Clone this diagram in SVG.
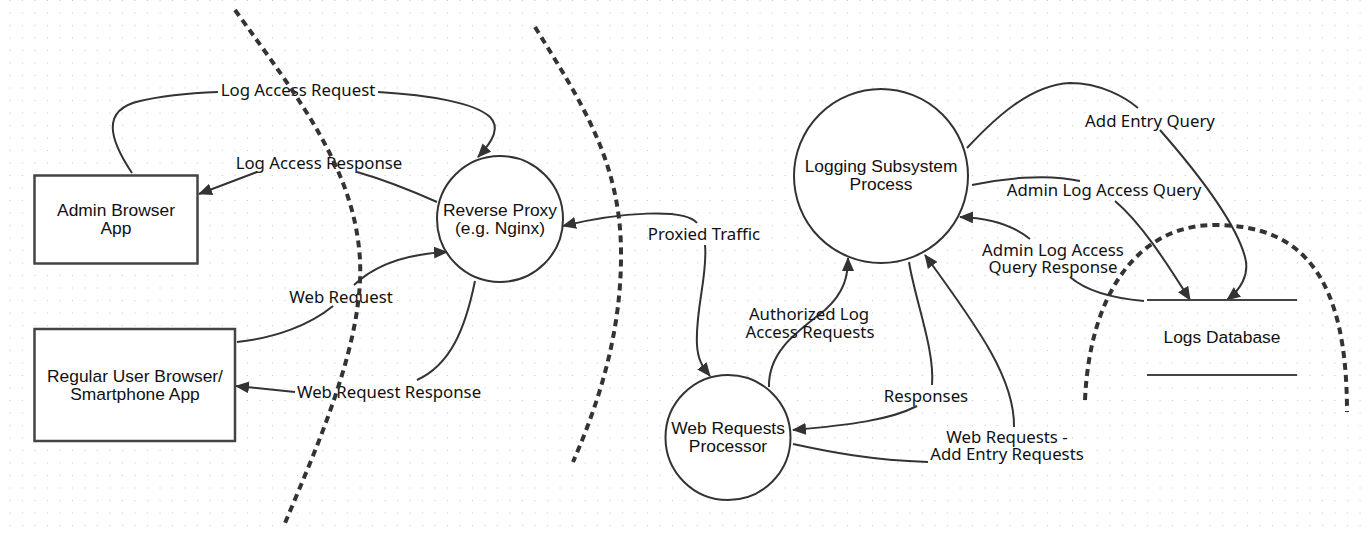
<svg xmlns="http://www.w3.org/2000/svg" width="1370" height="536" viewBox="0 0 1370 536">
<defs>
<pattern id="grid" x="0" y="0" width="12.5" height="12.5" patternUnits="userSpaceOnUse">
<rect x="9.5" y="0" width="1" height="1" fill="#c4c4c4"/>
</pattern>
<marker id="arr" viewBox="0 0 14 12" refX="13" refY="6" markerWidth="14" markerHeight="12" markerUnits="userSpaceOnUse" orient="auto">
<path d="M0,0 L14,6 L0,12 z" fill="#333"/>
</marker>
<style>
.node{fill:#fff;stroke:#333;stroke-width:2}
.box{fill:#fff;stroke:#444;stroke-width:2.5}
.store{stroke:#444;stroke-width:2;fill:none}
.ntext{font-family:"Liberation Sans",Arial,sans-serif;font-size:17.4px;fill:#111;text-anchor:middle}
.conn{fill:none;stroke:#333;stroke-width:2}
.lbl{font-family:"Noto Sans","Open Sans",sans-serif;font-size:16.8px;fill:#111;text-anchor:middle}
.bound{fill:none;stroke:#333;stroke-width:4;stroke-dasharray:7 5}
</style>
</defs>
<rect width="1370" height="536" fill="#fff"/>
<rect width="1370" height="536" fill="url(#grid)"/>

<g id="connectors">
<path class="conn" d="M132,173 C110,140 100,110 140,101 C165,95 195,93 218,92"/>
<path class="conn" d="M378,92 C430,95 475,103 490,117 C500,127 494,140 478,157" marker-end="url(#arr)"/>
<path class="conn" d="M437,202 C410,190 385,180 357,172"/>
<path class="conn" d="M257,172 L199,194" marker-end="url(#arr)"/>
<path class="conn" d="M237,342 C275,338 310,325 333,306"/>
<path class="conn" d="M354,285 C375,265 405,254 447,252" marker-end="url(#arr)"/>
<path class="conn" d="M475,281 C465,330 450,365 417,380"/>
<path class="conn" d="M295,392 C275,390 255,388 236,386" marker-end="url(#arr)"/>
<path class="conn" d="M697,223 C685,208 620,212 563,226" marker-end="url(#arr)"/>
<path class="conn" d="M705,245 C708,275 695,310 697,345 C698,360 702,366 710,376" marker-end="url(#arr)"/>
<path class="conn" d="M769,387 C768,350 800,330 825,310 C845,292 848,275 848,258" marker-end="url(#arr)"/>
<path class="conn" d="M909,262 C915,300 935,350 932,385"/>
<path class="conn" d="M917,406 C890,420 850,425 793,430" marker-end="url(#arr)"/>
<path class="conn" d="M793,444 C830,452 870,460 928,462"/>
<path class="conn" d="M1014,427 C1015,380 980,330 925,255" marker-end="url(#arr)"/>
<path class="conn" d="M967,148 C995,118 1030,85 1070,83 C1100,83 1125,97 1138,108"/>
<path class="conn" d="M1160,130 C1195,170 1235,220 1245,257 C1250,275 1240,290 1227,300" marker-end="url(#arr)"/>
<path class="conn" d="M972,185 C1000,179 1045,173 1080,181"/>
<path class="conn" d="M1115,201 C1140,222 1165,260 1190,300" marker-end="url(#arr)"/>
<path class="conn" d="M1144,301 C1110,298 1085,290 1070,277"/>
<path class="conn" d="M1030,239 C1015,227 995,218 960,217" marker-end="url(#arr)"/>
</g>

<g id="labels">
<text class="lbl" x="298" y="96">Log Access Request</text>
<text class="lbl" x="319" y="169">Log Access Response</text>
<text class="lbl" x="341" y="303">Web Request</text>
<text class="lbl" x="389" y="398">Web Request Response</text>
<text class="lbl" x="704" y="240">Proxied Traffic</text>
<text class="lbl" x="809" y="320">Authorized Log<tspan x="810" dy="18">Access Requests</tspan></text>
<text class="lbl" x="926" y="402">Responses</text>
<text class="lbl" x="1007" y="443">Web Requests -<tspan x="1007" dy="17">Add Entry Requests</tspan></text>
<text class="lbl" x="1150" y="127">Add Entry Query</text>
<text class="lbl" x="1104" y="196">Admin Log Access Query</text>
<text class="lbl" x="1053" y="256">Admin Log Access<tspan x="1053" dy="17">Query Response</tspan></text>
</g>

<g id="admin-browser">
<rect class="box" x="34.5" y="175.5" width="163" height="88"/>
<text class="ntext" x="116" y="216">Admin Browser<tspan x="116" dy="18">App</tspan></text>
</g>
<g id="regular-user">
<rect class="box" x="34.5" y="329" width="200.5" height="112"/>
<text class="ntext" x="135" y="382">Regular User Browser/<tspan x="135" dy="18">Smartphone App</tspan></text>
</g>
<g id="reverse-proxy">
<circle class="node" cx="500" cy="219" r="63"/>
<text class="ntext" x="500" y="216">Reverse Proxy<tspan x="500" dy="18">(e.g. Nginx)</tspan></text>
</g>
<g id="logging-subsystem">
<circle class="node" cx="881" cy="176" r="87"/>
<text class="ntext" x="881" y="172">Logging Subsystem<tspan x="881" dy="18">Process</tspan></text>
</g>
<g id="web-requests-processor">
<circle class="node" cx="728" cy="437.5" r="62.5"/>
<text class="ntext" x="728" y="434">Web Requests<tspan x="728" dy="18">Processor</tspan></text>
</g>
<g id="logs-database">
<line class="store" x1="1147" y1="300" x2="1297" y2="300"/>
<line class="store" x1="1147" y1="375" x2="1297" y2="375"/>
<text class="ntext" x="1222" y="343">Logs Database</text>
</g>

<g id="boundaries">
<path class="bound" d="M235,10 C300,100 355,170 360,260 C364,340 320,440 285,523"/>
<path class="bound" d="M535,27 C580,100 620,160 621,250 C622,330 600,400 573,462"/>
<path class="bound" d="M1085,400 C1090,290 1140,225 1215,225 C1305,225 1347,280 1347,412"/>
</g>
</svg>
